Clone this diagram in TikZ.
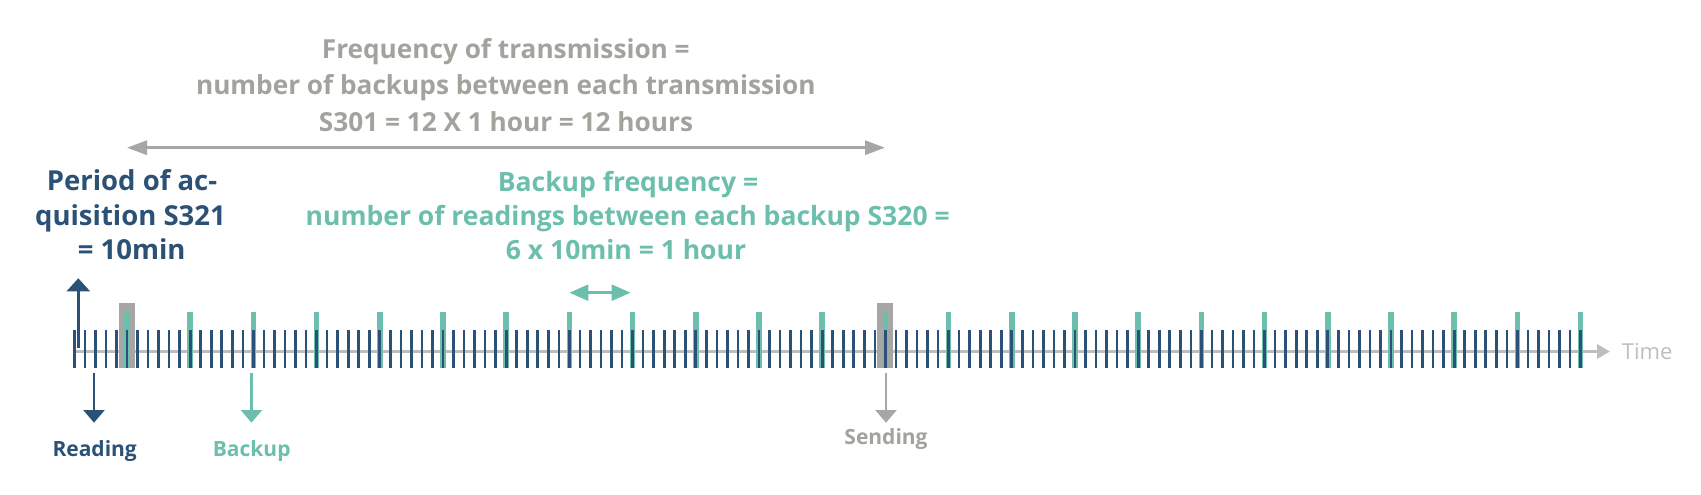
\documentclass[tikz,border=0pt]{standalone}
\usepackage{fontspec}
\setmainfont{Open Sans}
\usetikzlibrary{arrows.meta}
\definecolor{navy}{HTML}{2B5276}
\definecolor{tealc}{HTML}{6CBFAC}
\definecolor{greytxt}{HTML}{A3A29D}
\definecolor{greybox}{HTML}{A6A6A6}
\definecolor{lightgrey}{HTML}{BEBEBE}
\begin{document}
\begin{tikzpicture}[x=1pt,y=-1pt,
  txt/.style={inner sep=0pt,anchor=base},
  greyhead/.style={txt,text=greytxt,font=\fontsize{26.2}{30}\selectfont\bfseries},
  navyhead/.style={txt,text=navy,font=\fontsize{27.5}{30}\selectfont\bfseries},
  tealhead/.style={txt,text=tealc,font=\fontsize{26.5}{30}\selectfont\bfseries},
  lbl/.style={txt,font=\fontsize{21}{24}\selectfont\bfseries},
  readtick/.style={fill=navy},
  backtick/.style={fill=tealc},
  sendbox/.style={fill=greybox},
  axisline/.style={draw=lightgrey,line width=3.3pt,-{Triangle[width=14pt,length=13pt]}},
  downarrow/.style={line width=2.5pt,-{Triangle[width=21pt,length=12.7pt]}},
  uparrow/.style={draw=navy,line width=2.5pt,-{Triangle[width=23pt,length=13pt]}},
  spanarrow/.style={line width=3pt,{Triangle[width=14pt,length=20pt]}-{Triangle[width=14pt,length=20pt]}},
  bkarrow/.style={draw=tealc,line width=3pt,{Triangle[width=15.7pt,length=19pt]}-{Triangle[width=15.7pt,length=19pt]}}
]
\useasboundingbox (0,0) rectangle (1701,495);

% axis
\coordinate (axstart) at (74,351.5);
\coordinate (axend) at (1610,351.5);
\draw[axisline] (axstart) -- (axend);
\node[anchor=base west,inner sep=0pt,text=lightgrey,font=\fontsize{22}{26}\selectfont] (time) at (1621.7,359) {Time};

% sending boxes
\foreach \k in {0,12} {
  \fill[sendbox] ({127+\k*63.2-8},303.3) rectangle ({127+\k*63.2+8},368.3);
}
% backup ticks
\foreach \k in {0,...,23} {
  \fill[backtick] ({127+\k*63.2-2.85},311.7) rectangle ({127+\k*63.2+2.85},368.3);
}
% reading ticks
\foreach \i in {-5,...,138} {
  \fill[readtick] ({127+\i*10.5333-1.35},330) rectangle ({127+\i*10.5333+1.35},368.3);
}

% up arrow
\coordinate (upfoot) at (78.3,348);
\coordinate (uptip) at (78.3,278.3);
\draw[uparrow] (upfoot) -- (uptip);

% labels below
\node[lbl,text=navy] (reading) at (94.7,456.7) {Reading};
\node[lbl,text=tealc] (backup) at (251.7,456.7) {Backup};
\node[lbl,text=greytxt] (sending) at (886,444) {Sending};

\coordinate (rdtop) at (94,373.3);
\coordinate (rdtip) at (94,422.7);
\coordinate (bktop) at (251.5,373.3);
\coordinate (bktip) at (251.5,422.7);
\coordinate (sdtop) at (886,373.3);
\coordinate (sdtip) at (886,422.7);
\draw[downarrow,draw=navy] (rdtop) -- (rdtip);
\draw[downarrow,draw=tealc] (bktop) -- (bktip);
\draw[downarrow,draw=greybox] (sdtop) -- (sdtip);

% transmission span
\coordinate (spl) at (127,147.7);
\coordinate (spr) at (885,147.7);
\draw[spanarrow,draw=greybox] (spl) -- (spr);

% backup span
\coordinate (bkl) at (569.3,292.7);
\coordinate (bkr) at (630.7,292.7);
\draw[bkarrow] (bkl) -- (bkr);

% grey heading
\node[greyhead] (g1) at (505.8,58.3) {Frequency of transmission =};
\node[greyhead] (g2) at (505.8,95) {number of backups between each transmission};
\node[greyhead] (g3) at (506,131.7) {S301 = 12 X 1 hour = 12 hours};

% navy heading
\node[navyhead] (n1) at (132,190.7) {Period of ac-};
\node[navyhead] (n2) at (130.5,225) {quisition S321};
\node[navyhead] (n3) at (131.7,259.3) {= 10min};

% teal heading
\node[tealhead] (t1) at (628,191.7) {Backup frequency =};
\node[tealhead] (t2) at (627.7,225) {number of readings between each backup S320 =};
\node[tealhead] (t3) at (626,259.3) {6 x 10min = 1 hour};
\end{tikzpicture}
\end{document}
